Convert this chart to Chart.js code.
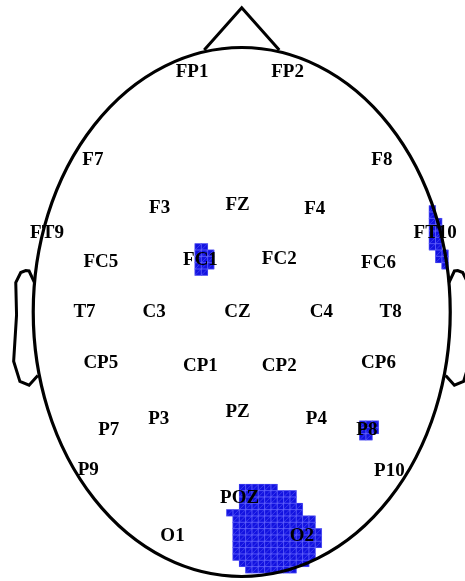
<!DOCTYPE html>
<html>
<head>
<meta charset="utf-8">
<style>
  html, body { margin: 0; padding: 0; background: #fff; }
</style>
<script src="https://cdn.jsdelivr.net/npm/chart.js@4/dist/chart.umd.min.js"></script>
</head>
<body>
<canvas id="topo" width="465" height="581"></canvas>
<script>
// electrode labels, in head units (head radius 0.5, nose up)
const electrodeNames = ['FP1', 'FP2', 'F7', 'F3', 'FZ', 'F4', 'F8', 'FT9', 'FC5', 'FC1', 'FC2', 'FC6', 'FT10',
  'T7', 'C3', 'CZ', 'C4', 'T8', 'CP5', 'CP1', 'CP2', 'CP6', 'P7', 'P3', 'PZ', 'P4', 'P8', 'P9', 'P10', 'POZ', 'O1', 'O2']
const electrodeX = [-0.119, 0.110, -0.357, -0.197, -0.010, 0.175, 0.336, -0.467, -0.338, -0.099, 0.090, 0.328, 0.464,
  -0.377, -0.210, -0.010, 0.191, 0.357, -0.338, -0.099, 0.090, 0.328, -0.319, -0.199, -0.010, 0.179, 0.300, -0.368, 0.354, -0.005, -0.166, 0.144]
const electrodeY = [0.454, 0.454, 0.287, 0.196, 0.203, 0.195, 0.287, 0.149, 0.094, 0.098, 0.100, 0.093, 0.149,
  0.000, 0.000, 0.000, 0.000, 0.000, -0.096, -0.102, -0.102, -0.096, -0.224, -0.202, -0.190, -0.202, -0.224, -0.299, -0.300, -0.351, -0.424, -0.424]

// significant grid cells: one entry per run of cells in a grid row
const cellRow      = [-44, -43, -42, -41, -40, -39, -38, -37, -36, -35,
                      -38, -37, -36, -35, -34,
                      -10, -9, -8,
                      0, 1, 2, 3, 4, 5, 6, 7, 8, 9, 10, 11, 12, 13]
const cellFirstCol = [30, 30, 30, 30, 30, 30, 30, 31, 31, 32,
                      -7, -7, -7, -7, -7,
                      19, 19, 19,
                      0, 0, 0, 0, -2, -1, -1, -1, -1, -1, -1, -1, 0, 1]
const cellLastCol  = [30, 30, 31, 31, 31, 31, 31, 32, 32, 32,
                      -6, -5, -5, -5, -6,
                      21, 21, 20,
                      5, 8, 8, 9, 9, 11, 11, 12, 12, 12, 11, 11, 10, 8]

// head outline pieces (standard ear / nose shapes)
const earX = [0.497, 0.510, 0.518, 0.5299, 0.5419, 0.54, 0.547, 0.532, 0.510, 0.489]
const earY = [0.0555, 0.0775, 0.0783, 0.0746, 0.0555, -0.0055, -0.0932, -0.1313, -0.1384, -0.1199]
const noseX = [-0.09, 0, 0.09]
const noseY = [0.4954, 0.575, 0.4954]

const headRadius = 0.5
const gridLeft = -0.00588
const gridTop  = -0.3257
const cellW = 0.01518
const cellH = 0.01197

const cellFill = '#1212e0'
const cellEdge = 'rgba(110,110,255,0.75)'

const cells = []
cellRow.forEach((row, i) => {
  for (let col = cellFirstCol[i]; col <= cellLastCol[i]; col++) {
    cells.push({ x: gridLeft + (col + 0.5) * cellW, y: gridTop - (row + 0.5) * cellH })
  }
})

const leftEar  = earX.map((v, i) => ({ x: -v, y: earY[i] }))
const rightEar = earX.map((v, i) => ({ x: v, y: earY[i] }))
const nose     = noseX.map((v, i) => ({ x: v, y: noseY[i] }))
const electrodes = electrodeNames.map((n, i) => ({ x: electrodeX[i], y: electrodeY[i], name: n }))

function cellSide(chart) {
  const xs = chart.scales.x
  if (!xs) return 6.3
  return xs.getPixelForValue(cellW) - xs.getPixelForValue(0)
}

const headPlugin = {
  id: 'head',
  afterDatasetDraw(chart, args) {
    if (args.index !== 0) return
    // mesh edges and diagonals across every cell
    const ctx = chart.ctx
    const h = cellSide(chart) / 2
    ctx.save()
    ctx.strokeStyle = cellEdge
    ctx.lineWidth = 0.6
    ctx.beginPath()
    args.meta.data.forEach(p => {
      ctx.rect(p.x - h, p.y - h, 2 * h, 2 * h)
      ctx.moveTo(p.x - h, p.y + h)
      ctx.lineTo(p.x + h, p.y - h)
    })
    ctx.stroke()
    ctx.restore()
  },
  afterDatasetsDraw(chart) {
    const { ctx, scales: { x, y } } = chart
    const cx = x.getPixelForValue(0)
    const cy = y.getPixelForValue(0)
    const rx = x.getPixelForValue(headRadius) - cx
    const ry = cy - y.getPixelForValue(headRadius)
    ctx.save()
    ctx.strokeStyle = '#000'
    ctx.lineWidth = 3.2
    ctx.beginPath()
    ctx.ellipse(cx, cy, rx, ry, 0, 0, 2 * Math.PI)
    ctx.stroke()

    ctx.fillStyle = '#000'
    ctx.font = 'bold 19px "Liberation Serif", "Times New Roman", serif'
    ctx.textAlign = 'center'
    ctx.textBaseline = 'middle'
    electrodes.forEach(e => {
      ctx.fillText(e.name, x.getPixelForValue(e.x), y.getPixelForValue(e.y))
    })
    ctx.restore()
  }
}

const outline = { showLine: true, borderColor: '#000', borderWidth: 3, pointRadius: 0, fill: false, order: 1 }

new Chart(document.getElementById('topo'), {
  type: 'scatter',
  data: {
    datasets: [
      {
        label: 'cells',
        data: cells,
        pointStyle: 'rect',
        // a hair larger than the cell so neighbours join without seams
        pointRadius: ctx => (cellSide(ctx.chart) / 2 + 0.3) * Math.SQRT2,
        backgroundColor: cellFill,
        borderWidth: 0,
        order: 5
      },
      Object.assign({ label: 'nose', data: nose }, outline),
      Object.assign({ label: 'left ear', data: leftEar }, outline),
      Object.assign({ label: 'right ear', data: rightEar }, outline)
    ]
  },
  options: {
    responsive: false,
    animation: false,
    events: [],
    layout: { padding: 0 },
    plugins: { legend: { display: false }, tooltip: { enabled: false } },
    scales: {
      x: { type: 'linear', min: -0.5797, max: 0.5354, display: false },
      y: { type: 'linear', min: -0.5085, max: 0.5898, display: false }
    }
  },
  plugins: [headPlugin]
})
</script>
</body>
</html>
